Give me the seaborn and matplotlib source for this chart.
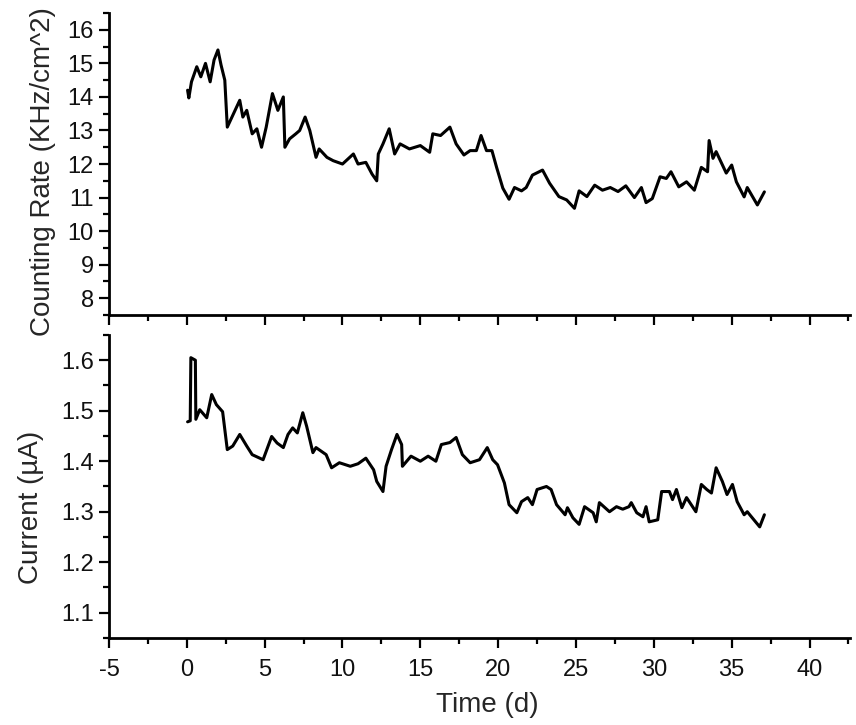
import matplotlib
matplotlib.use("Agg")
import matplotlib.pyplot as plt
from matplotlib.ticker import MultipleLocator
import seaborn as sns
import pandas as pd

# ---- data ----
rate_time = [0.05, 0.13, 0.3, 0.64, 0.9, 1.2, 1.5, 1.75, 2.0, 2.2,
             2.44, 2.6, 2.8, 3.0, 3.4, 3.6, 3.85, 4.2, 4.5, 4.8,
             5.1, 5.5, 5.85, 6.2, 6.3, 6.6, 7.0, 7.25, 7.6, 7.9,
             8.3, 8.5, 9.0, 9.4, 10.0, 10.7, 11.0, 11.5, 11.9, 12.2,
             12.3, 12.6, 13.0, 13.35, 13.7, 14.3, 15.0, 15.6, 15.8, 16.3,
             16.9, 17.3, 17.8, 18.2, 18.6, 18.9, 19.25, 19.6, 19.9, 20.3,
             20.7, 21.05, 21.5, 21.8, 22.2, 22.85, 23.3, 23.9, 24.4, 24.9,
             25.2, 25.7, 26.2, 26.7, 27.2, 27.7, 28.2, 28.75, 29.2, 29.5,
             29.9, 30.4, 30.8, 31.1, 31.6, 32.1, 32.6, 33.05, 33.45, 33.55,
             33.8, 34.0, 34.65, 35.0, 35.3, 35.8, 36.0, 36.65, 37.1]
rate_value = [14.2, 13.97, 14.45, 14.9, 14.6, 15.0, 14.45, 15.1, 15.4, 14.95,
              14.5, 13.1, 13.3, 13.5, 13.9, 13.4, 13.6, 12.9, 13.05, 12.5,
              13.1, 14.1, 13.6, 14.0, 12.5, 12.75, 12.9, 13.0, 13.4, 13.0,
              12.2, 12.45, 12.2, 12.1, 12.0, 12.3, 12.0, 12.05, 11.7, 11.5,
              12.3, 12.6, 13.05, 12.3, 12.6, 12.45, 12.55, 12.35, 12.9, 12.85,
              13.1, 12.6, 12.27, 12.4, 12.4, 12.85, 12.4, 12.4, 11.9, 11.28,
              10.95, 11.3, 11.2, 11.3, 11.67, 11.82, 11.43, 11.03, 10.93, 10.68,
              11.2, 11.03, 11.37, 11.22, 11.3, 11.18, 11.35, 11.0, 11.3, 10.85,
              10.97, 11.62, 11.57, 11.77, 11.32, 11.47, 11.22, 11.9, 11.77, 12.7,
              12.17, 12.37, 11.73, 11.97, 11.47, 11.02, 11.3, 10.78, 11.17]

current_time = [0.05, 0.22, 0.26, 0.55, 0.58, 0.83, 1.28, 1.6, 1.9, 2.3,
                2.6, 2.95, 3.4, 3.85, 4.2, 4.9, 5.45, 5.8, 6.2, 6.5,
                6.8, 7.1, 7.45, 7.7, 8.1, 8.3, 8.95, 9.3, 9.8, 10.5,
                11.0, 11.5, 12.0, 12.2, 12.6, 12.8, 13.15, 13.5, 13.8, 13.85,
                14.4, 15.0, 15.5, 16.0, 16.35, 16.9, 17.3, 17.7, 18.2, 18.8,
                19.3, 19.65, 19.96, 20.4, 20.7, 21.2, 21.5, 21.9, 22.2, 22.5,
                23.1, 23.4, 23.75, 24.3, 24.45, 24.8, 25.2, 25.55, 26.1, 26.3,
                26.5, 27.15, 27.6, 28.0, 28.4, 28.55, 28.9, 29.3, 29.5, 29.7,
                30.25, 30.5, 31.0, 31.2, 31.45, 31.8, 32.1, 32.7, 33.05, 33.4,
                33.7, 34.0, 34.4, 34.7, 35.05, 35.35, 35.8, 36.0, 36.8, 37.1]
current_value = [1.478, 1.48, 1.605, 1.60, 1.483, 1.502, 1.486, 1.532, 1.512, 1.498,
                 1.423, 1.43, 1.453, 1.43, 1.413, 1.403, 1.449, 1.436, 1.427, 1.453,
                 1.466, 1.456, 1.496, 1.469, 1.417, 1.427, 1.413, 1.387, 1.397, 1.39,
                 1.395, 1.406, 1.383, 1.36, 1.34, 1.39, 1.423, 1.453, 1.433, 1.39,
                 1.41, 1.40, 1.41, 1.40, 1.433, 1.437, 1.447, 1.413, 1.397, 1.403,
                 1.427, 1.403, 1.393, 1.357, 1.314, 1.298, 1.32, 1.328, 1.314, 1.344,
                 1.35, 1.344, 1.314, 1.294, 1.308, 1.288, 1.275, 1.31, 1.298, 1.28,
                 1.318, 1.30, 1.31, 1.305, 1.31, 1.318, 1.298, 1.29, 1.31, 1.28,
                 1.284, 1.34, 1.34, 1.324, 1.344, 1.308, 1.328, 1.30, 1.354, 1.344,
                 1.337, 1.387, 1.36, 1.334, 1.354, 1.32, 1.294, 1.30, 1.27, 1.294]

x_ticks = [-5, 0, 5, 10, 15, 20, 25, 30, 35, 40]
rate_ticks = [8, 9, 10, 11, 12, 13, 14, 15, 16]
current_ticks = [1.1, 1.2, 1.3, 1.4, 1.5, 1.6]

rate_df = pd.DataFrame({"t": rate_time, "v": rate_value})
cur_df = pd.DataFrame({"t": current_time, "v": current_value})

sns.set_theme(style="ticks")
plt.rcParams["font.family"] = ["Liberation Sans", "DejaVu Sans"]
plt.rcParams["text.color"] = "#111111"

fig = plt.figure(figsize=(8.56, 7.25), dpi=100)
ax1 = fig.add_axes([0.1273, 0.5655, 0.8657, 0.4165])
ax2 = fig.add_axes([0.1273, 0.12, 0.8657, 0.418])

line_kw = dict(color="black", linewidth=2.2, sort=False, estimator=None)
sns.lineplot(data=rate_df, x="t", y="v", ax=ax1, **line_kw)
sns.lineplot(data=cur_df, x="t", y="v", ax=ax2, **line_kw)

for ax in (ax1, ax2):
    ax.set_xlim(-5, 42.6)
    ax.set_xticks(x_ticks)
    ax.xaxis.set_minor_locator(MultipleLocator(2.5))
    for s in ("top", "right"):
        ax.spines[s].set_visible(False)
    for s in ("left", "bottom"):
        ax.spines[s].set_linewidth(2.0)
        ax.spines[s].set_color("black")
    ax.tick_params(which="major", direction="out", length=7, width=1.6,
                   color="black", labelsize=17, labelcolor="#111111", pad=4)
    ax.tick_params(which="minor", direction="out", length=4, width=1.6,
                   color="black")
    ax.set_facecolor("white")

ax1.set_ylim(7.5, 16.5)
ax1.set_yticks(rate_ticks)
ax1.yaxis.set_minor_locator(MultipleLocator(0.5))
ax1.tick_params(axis="x", labelbottom=False)
ax1.set_xlabel("")
ax1.set_ylabel("Counting Rate (KHz/cm^2)", fontsize=20)
ax1.yaxis.set_label_coords(-0.071, 0.475)

ax2.set_ylim(1.05, 1.65)
ax2.set_yticks(current_ticks)
ax2.set_yticklabels([f"{v:.1f}" for v in current_ticks])
ax2.yaxis.set_minor_locator(MultipleLocator(0.05))
ax2.set_xticklabels([str(v) for v in x_ticks])
ax2.tick_params(axis="x", which="major", pad=8)
ax2.set_xlabel("Time (d)", fontsize=20)
ax2.xaxis.set_label_coords(0.511, -0.178)
ax2.set_ylabel("Current (µA)", fontsize=20)
ax2.yaxis.set_label_coords(-0.088, 0.43)

fig.savefig("out.png", dpi=100, facecolor="white")
